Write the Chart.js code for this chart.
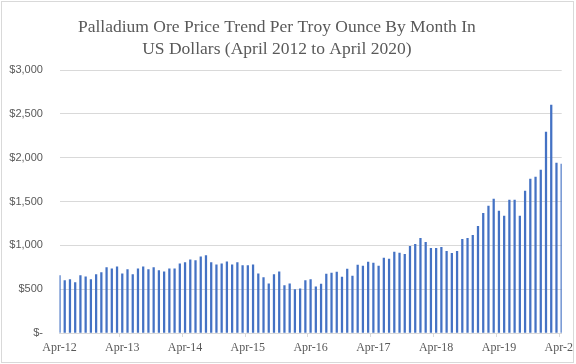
<!DOCTYPE html>
<html>
<head>
<meta charset="utf-8">
<script src="https://cdn.jsdelivr.net/npm/chart.js@4"></script>
<style>
    body { margin: 0; background: #fff; }
    #frame {
        position: absolute;
        left: 1px;
        top: 1px;
        width: 571px;
        height: 360px;
        border: 1px solid #d9d9d9;
        overflow: hidden;
        background: #fff;
    }
</style>
</head>
<body>
<div id="frame">
    <canvas id="priceChart" width="640" height="360"></canvas>
</div>
<script>
const monthNames = ["Jan", "Feb", "Mar", "Apr", "May", "Jun", "Jul", "Aug", "Sep", "Oct", "Nov", "Dec"];
const tickLabels = ["Apr-12", "Apr-13", "Apr-14", "Apr-15", "Apr-16", "Apr-17", "Apr-18", "Apr-19", "Apr-20"];

// monthly price, Apr 2012 .. Apr 2020 (USD per troy ounce)
const prices = [
    654, 597, 608, 574, 654, 642, 608, 665, 688, 745, 733, 756,
    676, 722, 665, 733, 756, 722, 745, 711, 699, 733, 733, 790,
    802, 836, 825, 870, 882, 802, 779, 790, 813, 779, 802, 768,
    768, 779, 676, 631, 562, 665, 699, 540, 562, 494, 505, 597,
    608, 528, 559, 673, 684, 695, 638, 730, 650, 775, 764, 809,
    798, 764, 855, 844, 923, 912, 898, 989, 1012, 1080, 1035, 966,
    966, 978, 932, 910, 932, 1069, 1080, 1114, 1217, 1366, 1448, 1528,
    1391, 1334, 1516, 1516, 1334, 1619, 1756, 1778, 1858, 2291, 2599, 1938,
    1927,
];

const yTicks = [0, 500, 1000, 1500, 2000, 2500, 3000];

const months = [];
for (let i = 0; i < prices.length; i++) {
    const m = (3 + i) % 12;
    const y = 12 + Math.floor((3 + i) / 12);
    months.push(monthNames[m] + "-" + y);
}

const grey = "#d9d9d9";
const textGrey = "#595959";

const formatDollars = (v) => {
    if (v === 0) return "$- ";
    return "$" + String(v).replace(/\B(?=(\d{3})+(?!\d))/g, ",") + " ";
};

const chart = new Chart(document.getElementById("priceChart"), {
    type: "bar",
    data: {
        labels: months,
        datasets: [
            {
                label: "Palladium",
                data: prices,
                backgroundColor: "#4472c4",
                borderWidth: 0,
                barThickness: 1.6,
            },
        ],
    },
    options: {
        responsive: false,
        animation: false,
        layout: {
            padding: { left: -10, right: 80.3, top: 0, bottom: 0 },
        },
        plugins: {
            legend: { display: false },
            tooltip: { enabled: false },
            title: {
                display: true,
                text: [
                    "Palladium Ore Price Trend Per Troy Ounce By Month In",
                    "US Dollars (April 2012 to April 2020)",
                ],
                color: textGrey,
                font: { family: "'Liberation Serif', serif", size: 17.5, weight: "normal", lineHeight: 22 / 17.5 },
                padding: { top: 14.4, bottom: 9.6 },
            },
        },
        scales: {
            x: {
                offset: false,
                grid: {
                    drawOnChartArea: false,
                    drawTicks: true,
                    tickLength: 4,
                    color: (ctx) => (tickLabels.includes(months[ctx.index]) ? grey : "rgba(0,0,0,0)"),
                },
                border: { display: true, color: grey },
                ticks: {
                    autoSkip: false,
                    maxRotation: 0,
                    padding: 4,
                    color: textGrey,
                    font: { family: "'Liberation Serif', serif", size: 12 },
                    callback: (value, index) => (tickLabels.includes(months[index]) ? months[index] : ""),
                },
                afterFit: (scale) => {
                    scale.height = 29;
                },
            },
            y: {
                min: 0,
                max: 3000,
                afterBuildTicks: (scale) => {
                    scale.ticks = yTicks.map((v) => ({ value: v }));
                },
                grid: { color: grey, drawTicks: false },
                border: { display: false },
                ticks: {
                    padding: 13.5,
                    color: textGrey,
                    font: { family: "'Liberation Sans', sans-serif", size: 11 },
                    callback: (value) => formatDollars(value),
                },
                afterFit: (scale) => {
                    scale.width = 67.5;
                },
            },
        },
    },
});
</script>
</body>
</html>
